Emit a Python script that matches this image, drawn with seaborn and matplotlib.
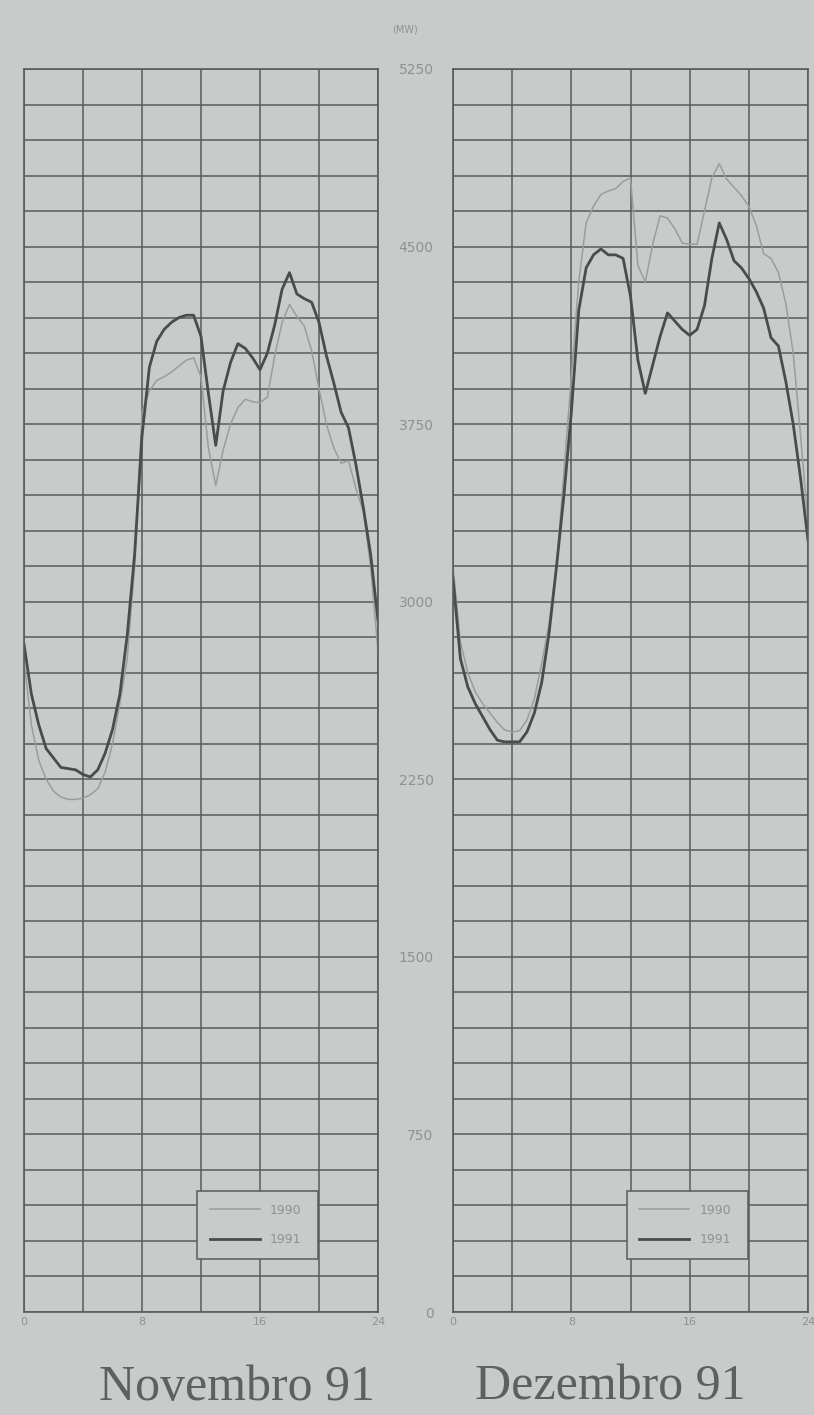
import numpy as np
import pandas as pd
import matplotlib.pyplot as plt
import seaborn as sns

# horas (meia em meia hora)
horas = [i * 0.5 for i in range(49)]

nov_1990 = [2750, 2480, 2330, 2250, 2200, 2175, 2165, 2165, 2170, 2185,
            2210, 2280, 2400, 2570, 2760, 3150, 3800, 3890, 3935, 3950,
            3970, 3995, 4020, 4030, 3950, 3650, 3490, 3640, 3750, 3820,
            3855, 3845, 3840, 3865, 4040, 4180, 4255, 4205, 4165, 4060,
            3900, 3750, 3650, 3585, 3595, 3480, 3380, 3150, 2790]
nov_1991 = [2820, 2610, 2480, 2380, 2340, 2300, 2295, 2290, 2270, 2260,
            2290, 2360, 2460, 2610, 2860, 3200, 3700, 3990, 4100, 4150,
            4180, 4200, 4210, 4210, 4120, 3880, 3660, 3890, 4010, 4090,
            4070, 4030, 3980, 4050, 4170, 4320, 4390, 4300, 4280, 4265,
            4180, 4040, 3925, 3800, 3735, 3580, 3400, 3200, 2920]

dez_1990 = [3150, 2830, 2700, 2620, 2570, 2530, 2490, 2458, 2450, 2455,
            2500, 2590, 2740, 2910, 3150, 3550, 3950, 4350, 4600, 4670,
            4720, 4735, 4745, 4775, 4790, 4420, 4350, 4510, 4630, 4620,
            4575, 4515, 4510, 4510, 4650, 4790, 4850, 4785, 4750, 4715,
            4670, 4590, 4470, 4450, 4390, 4260, 4050, 3700, 3330]
dez_1991 = [3100, 2760, 2640, 2570, 2515, 2460, 2415, 2408, 2408, 2408,
            2450, 2530, 2660, 2870, 3150, 3450, 3800, 4230, 4410, 4465,
            4490, 4465, 4465, 4450, 4290, 4020, 3880, 4000, 4120, 4220,
            4185, 4150, 4125, 4150, 4250, 4450, 4600, 4530, 4440, 4410,
            4365, 4310, 4240, 4115, 4080, 3930, 3750, 3520, 3260]

meses = ['Novembro 91', 'Dezembro 91']
y_ticks = [0, 750, 1500, 2250, 3000, 3750, 4500, 5250]
x_labels = ['0', '', '8', '', '16', '', '24']

bg = '#c8cbc9'
grade = '#5a5c5c'
claro = '#8f9292'

def monta(a, b):
    return pd.concat([
        pd.DataFrame({'hora': horas, 'MW': a, 'ano': '1990'}),
        pd.DataFrame({'hora': horas, 'MW': b, 'ano': '1991'}),
    ])

dfs = [monta(nov_1990, nov_1991), monta(dez_1990, dez_1991)]

fig = plt.figure(figsize=(8.14, 14.15), dpi=100, facecolor=bg)
ax1 = fig.add_axes([24 / 814, 103 / 1415, 354 / 814, 1243 / 1415])
ax2 = fig.add_axes([453 / 814, 103 / 1415, 355 / 814, 1243 / 1415])

for ax, df in zip([ax1, ax2], dfs):
    ax.set_facecolor(bg)
    sns.lineplot(data=df, x='hora', y='MW', hue='ano', size='ano',
                 palette={'1990': '#9a9d9d', '1991': '#4a4c4c'},
                 sizes={'1990': 1.1, '1991': 2.0}, ax=ax)
    ax.set_xlim(0, 24)
    ax.set_ylim(0, 5250)
    ax.set_xticks(range(0, 25, 4))
    ax.set_xticklabels(x_labels, color=claro, fontsize=8)
    ax.set_yticks(np.arange(0, 5251, 150))
    ax.tick_params(length=0)
    ax.grid(True, color=grade, linewidth=1.1)
    ax.set_axisbelow(True)
    for s in ax.spines.values():
        s.set_color(grade)
        s.set_linewidth(1.2)
    ax.set_xlabel('')
    ax.set_ylabel('')
    h, l = ax.get_legend_handles_labels()
    ax.legend(h, l, loc='lower left', bbox_to_anchor=(0.49, 0.043, 0.34, 0.057),
              mode='expand', fontsize=9, labelcolor=claro, facecolor=bg,
              edgecolor=grade, framealpha=1, fancybox=False, handlelength=4,
              labelspacing=1.3, borderpad=1.0, borderaxespad=0)
    ax.get_legend().get_frame().set_linewidth(1.1)

ax1.set_yticklabels([])
ax2.set_yticklabels([str(v) if v in y_ticks else '' for v in np.arange(0, 5251, 150)],
                    color=claro, fontsize=10)
ax2.tick_params(axis='y', pad=14)

fig.text(405 / 814, 1 - 30 / 1415, '(MW)', color=claro, fontsize=7, ha='center', va='center')
fig.text(237 / 814, 1 - 1400 / 1415, meses[0], family='Liberation Serif', fontsize=36,
         color='#5e6060', ha='center', va='baseline')
fig.text(610 / 814, 1 - 1400 / 1415, meses[1], family='Liberation Serif', fontsize=36,
         color='#5e6060', ha='center', va='baseline')

plt.savefig('out.png', dpi=100, facecolor=bg)
